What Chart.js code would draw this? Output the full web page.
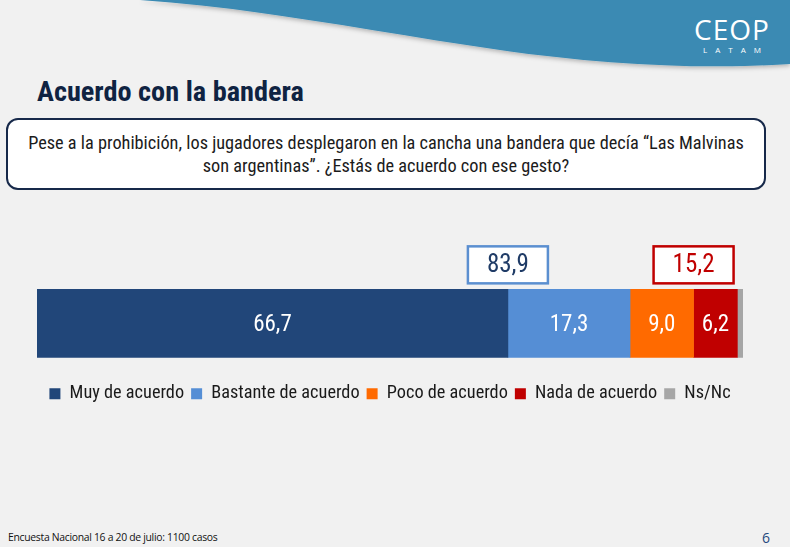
<!DOCTYPE html>
<html lang="es">
<head>
<meta charset="utf-8">
<title>Acuerdo con la bandera</title>
<script src="https://cdn.jsdelivr.net/npm/chart.js@4.4.1/dist/chart.umd.min.js"></script>
<style>
  html, body { margin: 0; padding: 0; }
  body {
    width: 790px; height: 547px; overflow: hidden; position: relative;
    background: #f1f1f1;
    font-family: 'Roboto Condensed', 'Liberation Sans Narrow', 'DejaVu Sans Condensed', sans-serif;
  }
  #ola { position: absolute; left: 0; top: 0; }
  .logo { position: absolute; left: 684px; top: 13px; width: 96px; text-align: center; color: #fff; }
  .logo .ceop { font-family: 'Open Sans', sans-serif; font-size: 28px; letter-spacing: 1px; line-height: 32px; position: relative; }
  .logo .ceop .tilde { position: absolute; left: 66px; top: 4px; width: 5px; height: 7px; background: #3a8ab3; transform: skewX(-20deg); }
  .logo .latam { font-family: 'Open Sans', sans-serif; font-size: 8px; letter-spacing: 8px; line-height: 10px; margin-left: 8px; }
  h1 {
    position: absolute; left: 37px; top: 75px; margin: 0;
    font-size: 28.3px; font-weight: bold; color: #0f2342;
  }
  .pregunta {
    position: absolute; left: 6px; top: 118px; width: 756px; height: 68px;
    background: #fff; border: 2px solid #17294a; border-radius: 12px;
    box-sizing: content-box;
    display: flex; align-items: center; justify-content: center; text-align: center;
    font-size: 18.3px; line-height: 23px; color: #1b1b1b;
  }
  #wrap { position: absolute; left: 0; top: 230px; width: 790px; height: 190px; }
  .pie { position: absolute; left: 8px; top: 530px; font-family: 'Open Sans', sans-serif; font-size: 10.4px; letter-spacing: -0.3px; color: #111; }
  .pagina { position: absolute; left: 762px; top: 528px; font-family: 'Open Sans', sans-serif; font-size: 14px; color: #1f497d; }
</style>
</head>
<body>
<svg id="ola" width="790" height="90" viewBox="0 0 790 90">
  <defs>
    <filter id="sombra" x="-5%" y="-20%" width="110%" height="160%">
      <feDropShadow dx="0" dy="2" stdDeviation="2" flood-color="#000" flood-opacity="0.25"/>
    </filter>
  </defs>
  <path d="M140,0 C 260,8 380,33 500,50 C 600,64 700,70 790,64 L790,0 Z" fill="#3a8ab3" filter="url(#sombra)"/>
</svg>
<div class="logo"><div class="ceop">CEOP<span class="tilde"></span></div><div class="latam">LATAM</div></div>

<h1>Acuerdo con la bandera</h1>
<div class="pregunta">Pese a la prohibición, los jugadores desplegaron en la cancha una bandera que decía “Las Malvinas<br>son argentinas”. ¿Estás de acuerdo con ese gesto?</div>

<div id="wrap"><canvas id="grafico"></canvas></div>

<div class="pie">Encuesta Nacional 16 a 20 de julio: 1100 casos</div>
<div class="pagina">6</div>

<script>
  // ---------- datos ----------
  const categorias = ['Muy de acuerdo', 'Bastante de acuerdo', 'Poco de acuerdo', 'Nada de acuerdo', 'Ns/Nc'];
  const valores = [66.7, 17.3, 9.0, 6.2, 0.8];
  const colores = ['#214679', '#558ed5', '#ff6a00', '#c00000', '#a6a6a6'];

  // totales agrupados (acuerdo / desacuerdo) y el segmento donde se centran
  const resumenValores = [83.9, 15.2];
  const resumenAncla = [0, 2];
  const resumenColorBorde = ['#5b8fd0', '#c00000'];
  const resumenColorTexto = ['#1f3b66', '#c00000'];

  const FUENTE = "'Roboto Condensed', 'Liberation Sans Narrow', 'DejaVu Sans Condensed', sans-serif";
  const fmt = (v) => v.toFixed(1).replace('.', ',');

  // etiquetas blancas dentro de cada segmento
  const etiquetasBarra = {
    id: 'etiquetasBarra',
    afterDatasetsDraw(chart) {
      const { ctx } = chart;
      ctx.save();
      ctx.font = `23px ${FUENTE}`;
      ctx.fillStyle = '#fff';
      ctx.textAlign = 'center';
      ctx.textBaseline = 'middle';
      chart.data.datasets.forEach((ds, i) => {
        if (ds.data[0] < 2) return;
        const bar = chart.getDatasetMeta(i).data[0];
        ctx.fillText(fmt(ds.data[0]), (bar.base + bar.x) / 2, bar.y + 2);
      });
      ctx.restore();
    }
  };

  // recuadros con totales encima de la barra
  const recuadros = {
    id: 'recuadros',
    afterDatasetsDraw(chart) {
      const { ctx, scales } = chart;
      const bar0 = chart.getDatasetMeta(0).data[0];
      const top = bar0.y - bar0.height / 2;
      ctx.save();
      resumenValores.forEach((v, k) => {
        const acum = valores.slice(0, resumenAncla[k] + 1).reduce((a, b) => a + b, 0);
        const cx = scales.x.getPixelForValue(acum);
        const w = 80, h = 37;
        const x = cx - w / 2, y = top - 6 - h;
        ctx.fillStyle = '#fff';
        ctx.fillRect(x, y, w, h);
        ctx.lineWidth = 2.5;
        ctx.strokeStyle = resumenColorBorde[k];
        ctx.strokeRect(x, y, w, h);
        ctx.font = `25px ${FUENTE}`;
        ctx.fillStyle = resumenColorTexto[k];
        ctx.textAlign = 'center';
        ctx.textBaseline = 'middle';
        ctx.fillText(fmt(v), cx, y + h / 2 + 1);
      });
      ctx.restore();
    }
  };

  const datasets = categorias.map((c, i) => ({
    label: c,
    data: [valores[i]],
    backgroundColor: colores[i],
    borderWidth: 0,
    barThickness: 68
  }));

  new Chart(document.getElementById('grafico'), {
    type: 'bar',
    data: { labels: [''], datasets },
    options: {
      indexAxis: 'y',
      responsive: true,
      maintainAspectRatio: false,
      animation: false,
      layout: { padding: { left: 37, right: 47, top: 39, bottom: 7 } },
      scales: {
        x: { stacked: true, min: 0, max: 100, display: false },
        y: { stacked: true, display: false }
      },
      plugins: {
        tooltip: { enabled: false },
        legend: {
          position: 'bottom',
          labels: {
            boxWidth: 11,
            boxHeight: 11,
            padding: 7,
            color: '#1a1a1a',
            font: { family: FUENTE, size: 18.3 }
          }
        }
      }
    },
    plugins: [etiquetasBarra, recuadros]
  });
</script>
</body>
</html>
